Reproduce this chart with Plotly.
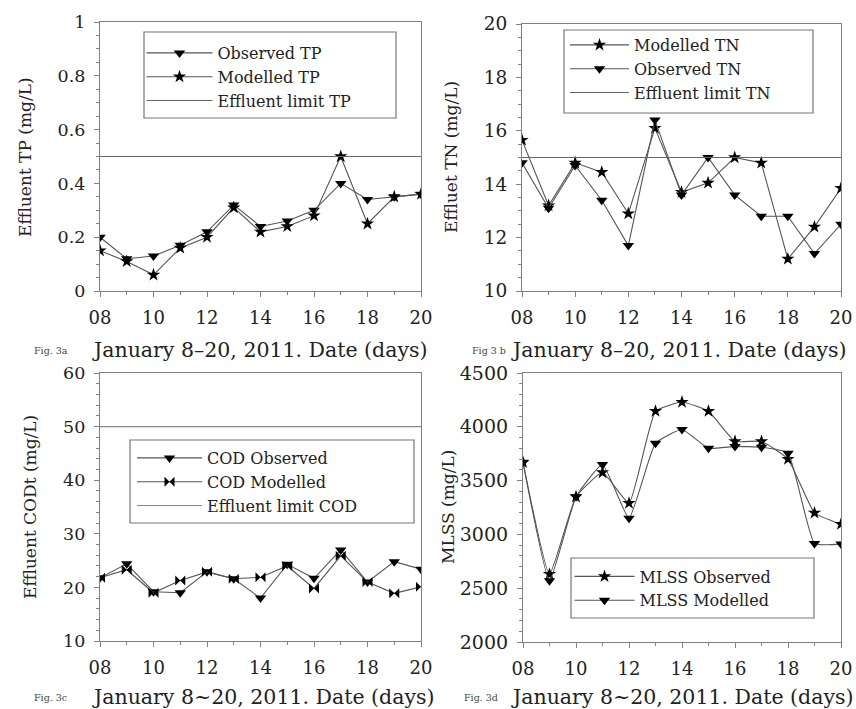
import plotly.graph_objects as go

days = [8, 9, 10, 11, 12, 13, 14, 15, 16, 17, 18, 19, 20]
tick_vals = [8, 10, 12, 14, 16, 18, 20]
tick_text = ["08", "10", "12", "14", "16", "18", "20"]

tp_observed = [0.20, 0.12, 0.13, 0.17, 0.22, 0.32, 0.24, 0.26, 0.30, 0.40, 0.34, 0.35, 0.36]
tp_modelled = [0.15, 0.11, 0.06, 0.16, 0.20, 0.31, 0.22, 0.24, 0.28, 0.50, 0.25, 0.35, 0.36]
tp_limit = 0.5

tn_modelled = [15.65, 13.2, 14.8, 14.45, 12.9, 16.1, 13.7, 14.05, 15.0, 14.8, 11.2, 12.4, 13.85]
tn_observed = [14.8, 13.1, 14.7, 13.4, 11.7, 16.4, 13.6, 15.0, 13.6, 12.8, 12.8, 11.4, 12.5]
tn_limit = 15

cod_observed = [21.8, 24.4, 19.2, 19.0, 22.9, 21.6, 18.0, 24.3, 21.7, 27.0, 21.0, 24.8, 23.4]
cod_modelled = [21.8, 23.3, 19.0, 21.3, 22.9, 21.6, 21.9, 24.0, 19.8, 25.9, 21.0, 18.9, 20.1]
cod_limit = 50

mlss_observed = [3670, 2630, 3350, 3575, 3290, 4145, 4230, 4145, 3865, 3865, 3700, 3200, 3095]
mlss_modelled = [3670, 2570, 3350, 3650, 3150, 3848, 3975, 3800, 3818, 3810, 3755, 2915, 2910]

FONT = "DejaVu Serif"
LINE_C = "#555555"
AXIS_C = "#808080"
TEXT_C = "#222222"
W, H = 856, 709

fig = go.Figure()

def px_x(p):
    return p / W

def px_y(p):
    return 1 - p / H

# panel domains (pixel positions)
panels = {
    "a": dict(x=(100, 421), y=(22, 291)),
    "b": dict(x=(522, 841), y=(24, 291)),
    "c": dict(x=(100, 421), y=(373, 641)),
    "d": dict(x=(523, 841), y=(373, 642)),
}

def mk(name, x, y, symbol, xa, ya, legend, shape="linear", size=10):
    fig.add_trace(go.Scatter(
        x=x, y=y, name=name, mode="lines+markers",
        line=dict(color=LINE_C, width=1.1, shape=shape, smoothing=0.4),
        marker=dict(symbol=symbol, size=size, color="black"),
        xaxis=xa, yaxis=ya, legend=legend))

def limit(name, val, xa, ya, legend, color="#666666"):
    fig.add_trace(go.Scatter(
        x=[days[0], days[-1]], y=[val, val], name=name, mode="lines",
        line=dict(color=color, width=1.2),
        xaxis=xa, yaxis=ya, legend=legend))

# Panel a
mk("Observed TP", days, tp_observed, "triangle-down", "x", "y", "legend")
mk("Modelled TP", days, tp_modelled, "star", "x", "y", "legend")
limit("Effluent limit TP", tp_limit, "x", "y", "legend")
# Panel b
mk("Modelled TN", days, tn_modelled, "star", "x2", "y2", "legend2")
mk("Observed TN", days, tn_observed, "triangle-down", "x2", "y2", "legend2")
limit("Effluent limit TN", tn_limit, "x2", "y2", "legend2")
# Panel c
mk("COD Observed", days, cod_observed, "triangle-down", "x3", "y3", "legend3")
mk("COD Modelled", days, cod_modelled, "bowtie", "x3", "y3", "legend3")
limit("Effluent limit COD", cod_limit, "x3", "y3", "legend3", color="#888888")
# Panel d
mk("MLSS Observed", days, mlss_observed, "star", "x4", "y4", "legend4", shape="spline")
mk("MLSS Modelled", days, mlss_modelled, "triangle-down", "x4", "y4", "legend4", shape="spline")

def xaxis(p, anchor):
    d = panels[p]
    return dict(domain=[px_x(d["x"][0]), px_x(d["x"][1])], anchor=anchor,
                range=[8, 20], tickvals=tick_vals, ticktext=tick_text,
                ticks="outside", ticklen=5, tickcolor=AXIS_C, ticklabelstandoff=5,
                minor=dict(dtick=1, ticks="outside", ticklen=3, tickcolor=AXIS_C),
                showline=True, linecolor=AXIS_C, linewidth=1.2, mirror=True,
                showgrid=False, zeroline=False, automargin=False,
                tickfont=dict(family=FONT, size=18, color=TEXT_C))

def yaxis(p, anchor, rng, dtick, minor, fs):
    d = panels[p]
    return dict(domain=[px_y(d["y"][1]), px_y(d["y"][0])], anchor=anchor,
                range=rng, dtick=dtick,
                ticks="outside", ticklen=5, tickcolor=AXIS_C, ticklabelstandoff=5,
                minor=dict(dtick=minor, ticks="outside", ticklen=3, tickcolor=AXIS_C),
                showline=True, linecolor=AXIS_C, linewidth=1.2, mirror=True,
                showgrid=False, zeroline=False, automargin=False,
                tickfont=dict(family=FONT, size=fs, color=TEXT_C))

fig.update_layout(
    width=W, height=H, margin=dict(l=0, r=0, t=0, b=0, autoexpand=False),
    paper_bgcolor="white", plot_bgcolor="white",
    font=dict(family=FONT, color=TEXT_C),
    xaxis=xaxis("a", "y"), yaxis=yaxis("a", "x", [0, 1], 0.2, 0.05, 17.5),
    xaxis2=xaxis("b", "y2"), yaxis2=yaxis("b", "x2", [10, 20], 2, 0.5, 18.5),
    xaxis3=xaxis("c", "y3"), yaxis3=yaxis("c", "x3", [10, 60], 10, 2, 17.5),
    xaxis4=xaxis("d", "y4"), yaxis4=yaxis("d", "x4", [2000, 4500], 500, 100, 19),
)
fig.update_layout(yaxis=dict(tickvals=[0, 0.2, 0.4, 0.6, 0.8, 1],
                             ticktext=["0", "0.2", "0.4", "0.6", "0.8", "1"]))

legfont = dict(family=FONT, size=16, color=TEXT_C)

# legend frames (pixel boxes) and legend anchor settings
legend_boxes = {
    "legend": dict(box=(144, 32, 396, 118), x=141.5, y=36, iw=66),
    "legend2": dict(box=(564, 30, 813, 113), x=565, y=28, iw=59),
    "legend3": dict(box=(130, 440, 414, 523), x=132, y=441, iw=65),
    "legend4": dict(box=(571, 558, 814, 618), x=569.5, y=559.5, iw=60),
}
for key, spec in legend_boxes.items():
    x0, y0, x1, y1 = spec["box"]
    fig.add_shape(type="rect", xref="paper", yref="paper",
                  x0=px_x(x0), x1=px_x(x1), y0=px_y(y1), y1=px_y(y0),
                  line=dict(color="#777777", width=1.2), fillcolor="white", layer="above")
    fig.update_layout({key: dict(x=px_x(spec["x"]), y=px_y(spec["y"]),
                                 xanchor="left", yanchor="top",
                                 borderwidth=0, bgcolor="rgba(0,0,0,0)",
                                 font=legfont, tracegroupgap=0, itemwidth=spec["iw"])})

# y-axis titles
ytitles = [
    ("Effluent TP (mg/L)", 25, 157),
    ("Effluet TN (mg/L)", 451, 157),
    ("Effluent CODt (mg/L)", 30, 507),
    ("MLSS (mg/L)", 448, 507),
]
for t, x, y in ytitles:
    fig.add_annotation(text=t, x=px_x(x), y=px_y(y), xref="paper", yref="paper",
                       textangle=-90, showarrow=False, xanchor="center", yanchor="middle",
                       font=dict(family=FONT, size=17, color=TEXT_C))

# captions
captions = [
    ("Fig. 3a", 51, 350, "January 8\u201320, 2011. Date (days)", 90),
    ("Fig 3 b", 489, 350, "January 8\u201320, 2011. Date (days)", 509),
    ("Fig. 3c", 50, 697, "January 8~20, 2011. Date (days)", 90),
    ("Fig. 3d", 481, 697, "January 8~20, 2011. Date (days)", 509),
]
for small, sx, y, big, bx in captions:
    fig.add_annotation(text=small, x=px_x(sx), y=px_y(y), xref="paper", yref="paper",
                       showarrow=False, xanchor="center", yanchor="middle",
                       font=dict(family=FONT, size=9.5, color="#444444"))
    fig.add_annotation(text=big, x=px_x(bx), y=px_y(y), xref="paper", yref="paper",
                       showarrow=False, xanchor="left", yanchor="middle",
                       font=dict(family=FONT, size=20.5, color=TEXT_C))

fig.write_html("out.html", config={"displayModeBar": False},
               post_script="document.body.style.margin='0';document.body.style.overflow='hidden';")
